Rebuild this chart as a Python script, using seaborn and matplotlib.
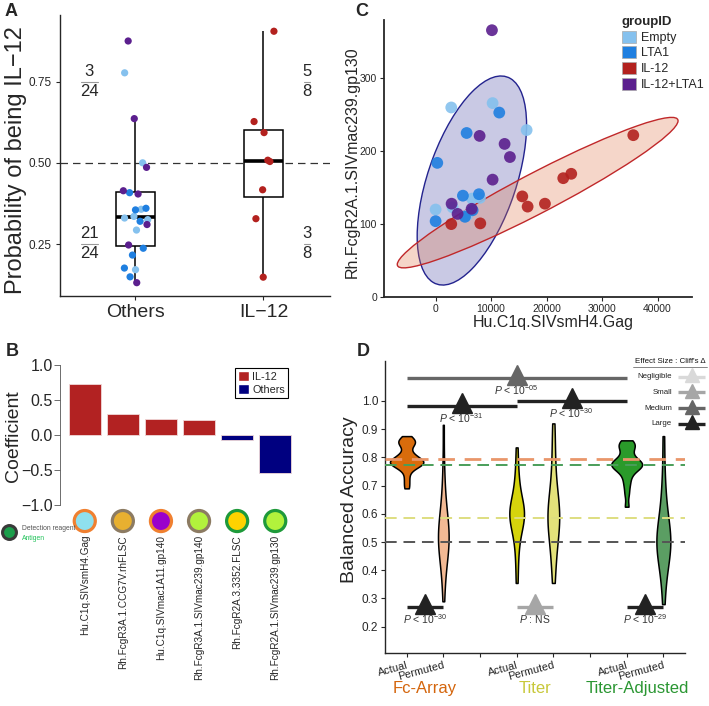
import numpy as np
import pandas as pd
import seaborn as sns
import matplotlib.pyplot as plt
from matplotlib.patches import Ellipse, Patch
from matplotlib.transforms import blended_transform_factory

sns.set_style('ticks')
plt.rcParams['font.family'] = ['Liberation Sans', 'DejaVu Sans']
plt.rcParams['mathtext.fontset'] = 'custom'
plt.rcParams['mathtext.rm'] = 'Liberation Sans'
plt.rcParams['mathtext.it'] = 'Liberation Sans:italic'
plt.rcParams['axes.linewidth'] = 1.0

# ---------------- data ----------------
group_names = ['Empty', 'LTA1', 'IL-12', 'IL-12+LTA1']
group_colors = ['#85c1ee', '#1f7fe0', '#b3211e', '#5b1f8e']

# A: probability of being IL-12 (per animal)
prob_empty = [0.777, 0.50, 0.335, 0.357, 0.325, 0.293, 0.171, 0.33]
prob_lta1 = [0.408, 0.355, 0.32, 0.237, 0.216, 0.176, 0.149, 0.36]
prob_combo = [0.875, 0.636, 0.486, 0.414, 0.404, 0.31, 0.247, 0.131]
prob_il12 = [0.905, 0.627, 0.593, 0.504, 0.508, 0.417, 0.328, 0.148]
class_names = ['Others', 'IL-12']
frac_num = ['3', '21', '5', '3']
frac_den = ['24', '24', '8', '8']

# C: two selected features
gag_empty = [2820, 10270, 16400, 0, 6550, 7990, 3060, 5700]
gp130_empty = [260, 266, 229, 120, 135, 136, 123, 112]
gag_lta1 = [11470, 5590, 300, 4920, 7810, 0, 6670, 5290]
gp130_lta1 = [253, 225, 184, 139, 141, 104, 119, 110]
gag_il12 = [35620, 24440, 23000, 15620, 16580, 19700, 2820, 8050]
gp130_il12 = [222, 169, 163, 138, 124, 128, 100, 101]
gag_combo = [10150, 7930, 12430, 13390, 10270, 2880, 3960, 6490]
gp130_combo = [366, 221, 210, 192, 161, 128, 114, 121]

# B: model coefficients
features = ['Hu.C1q.SIVsmH4.Gag', 'Rh.FcgR3A.1.CCG7V.rhFLSC', 'Hu.C1q.SIVmac1A11.gp140',
            'Rh.FcgR3A.1.SIVmac239.gp140', 'Rh.FcgR2A.3.3352.FLSC', 'Rh.FcgR2A.1.SIVmac239.gp130']
coefs = [0.729, 0.296, 0.229, 0.21, -0.076, -0.538]
coef_dir = ['IL-12', 'IL-12', 'IL-12', 'IL-12', 'Others', 'Others']
antigen_colors = ['#8fe0ee', '#e8b030', '#9a00cc', '#b2f23c', '#ffd200', '#b2f23c']
reagent_colors = ['#f08030', '#8c7b62', '#f08030', '#8c7b62', '#1e9a3a', '#1e9a3a']

# D: balanced accuracy distributions
fc_actual = [0.69, 0.71, 0.73, 0.75, 0.76, 0.765, 0.77, 0.775, 0.775, 0.78, 0.78, 0.785, 0.785,
             0.79, 0.79, 0.795, 0.80, 0.805, 0.81, 0.82, 0.835, 0.845, 0.85, 0.855, 0.86, 0.865, 0.875]
fc_perm = [0.29, 0.36, 0.40, 0.43, 0.45, 0.47, 0.48, 0.49, 0.50, 0.51, 0.52, 0.53, 0.54, 0.55,
           0.56, 0.58, 0.60, 0.62, 0.65, 0.70, 0.77, 0.915]
titer_actual = [0.355, 0.43, 0.48, 0.52, 0.54, 0.56, 0.57, 0.58, 0.59, 0.60, 0.60, 0.61, 0.62,
                0.63, 0.64, 0.66, 0.68, 0.72, 0.76, 0.835]
titer_perm = [0.355, 0.42, 0.46, 0.50, 0.53, 0.55, 0.57, 0.58, 0.59, 0.60, 0.61, 0.63, 0.65,
              0.68, 0.72, 0.78, 0.85, 0.92]
ta_actual = [0.625, 0.67, 0.70, 0.72, 0.74, 0.75, 0.76, 0.765, 0.77, 0.77, 0.775, 0.78, 0.78,
             0.785, 0.79, 0.80, 0.815, 0.83, 0.84, 0.845, 0.85, 0.86]
ta_perm = [0.28, 0.36, 0.40, 0.43, 0.45, 0.47, 0.48, 0.49, 0.50, 0.51, 0.52, 0.53, 0.55, 0.57,
           0.60, 0.63, 0.68, 0.75, 0.875]
violin_data = [fc_actual, fc_perm, titer_actual, titer_perm, ta_actual, ta_perm]
violin_pos = [1, 2, 4, 5, 7, 8]
violin_colors = ['#d96c0c', '#f2b994', '#d6d40c', '#e3e27a', '#2a9a2a', '#5b9e63']
violin_widths = [0.91, 0.29, 0.40, 0.32, 0.84, 0.38]
violin_bw = [0.55, 0.9, 0.8, 0.9, 0.55, 0.9]
model_names = ['Fc-Array', 'Titer', 'Titer-Adjusted']
model_colors = ['#d4650c', '#c8c83a', '#2a9632']
ref_values = [0.795, 0.773, 0.585, 0.5]
ref_colors = ['#e9966a', '#4a9e5a', '#dede80', '#555555']

effect_levels = ['Negligible', 'Small', 'Medium', 'Large']
effect_colors = ['#d9d9d9', '#a6a6a6', '#666666', '#222222']
cmp_pairs = [(1, 7), (1, 4), (4, 7), (1, 2), (4, 5), (7, 8)]
cmp_levels = [1.082, 0.981, 1.0, 0.27, 0.27, 0.27]
cmp_effect = ['Medium', 'Large', 'Large', 'Large', 'Small', 'Large']
cmp_text = [r'$P$ < 10$^{-05}$', r'$P$ < 10$^{-31}$', r'$P$ < 10$^{-30}$',
            r'$P$ < 10$^{-30}$', r'$P$ : NS', r'$P$ < 10$^{-29}$']

# ---------------- figure ----------------
W, H = 709, 706
fig = plt.figure(figsize=(W / 100, H / 100), dpi=100)


def px_axes(left, top, right, bottom):
    return fig.add_axes([left / W, 1 - bottom / H, (right - left) / W, (bottom - top) / H])


pal = dict(zip(group_names, group_colors))

# ---- A ----
ax_a = px_axes(60, 15, 330, 296)
df_a = pd.DataFrame({
    'prob': prob_empty + prob_lta1 + prob_combo + prob_il12,
    'grp': ['Empty'] * 8 + ['LTA1'] * 8 + ['IL-12+LTA1'] * 8 + ['IL-12'] * 8,
})
df_a['cls'] = np.where(df_a['grp'] == 'IL-12', 'IL-12', 'Others')
sns.boxplot(data=df_a, x='cls', y='prob', order=class_names, width=0.3, showfliers=False,
            showcaps=False, color='white', linecolor='black', linewidth=1.1,
            medianprops={'linewidth': 2.6}, ax=ax_a)
np.random.seed(7)
sns.stripplot(data=df_a, x='cls', y='prob', order=class_names, hue='grp', palette=pal,
              jitter=0.1, size=5.2, linewidth=0, legend=False, ax=ax_a, zorder=3)
ax_a.axhline(0.5, color='#333333', lw=0.9, ls=(0, (6, 4)), zorder=1.5)
for i, (num, den) in enumerate(zip(frac_num, frac_den)):
    xc = -0.36 if i < 2 else 1.34
    yc = 0.75 if i % 2 == 0 else 0.25
    half = 0.068 if len(den) == 2 else 0.025
    ax_a.text(xc, yc + 0.031, num, ha='center', va='center', fontsize=12)
    ax_a.text(xc, yc - 0.030, den, ha='center', va='center', fontsize=12)
    ax_a.plot([xc - half, xc + half], [yc, yc], color='#999999', lw=0.8)
ax_a.set_xlim(-0.59, 1.52)
ax_a.set_ylim(0.09, 0.955)
ax_a.set_yticks([0.25, 0.5, 0.75])
ax_a.set_yticklabels(['0.25', '0.50', '0.75'], fontsize=8.5)
ax_a.set_xticks([0, 1])
ax_a.set_xticklabels(['Others', 'IL\u221212'], fontsize=14)
ax_a.tick_params(length=3, width=0.8, pad=3)
ax_a.set_xlabel('')
ax_a.set_ylabel('')
sns.despine(ax=ax_a)
fig.text(16 / W, 1 - 160 / H, 'Probability of being IL\u221212', rotation=90,
         ha='center', va='center', fontsize=17)

# ---- C ----
ax_c = px_axes(384, 20, 692, 297)
df_c = pd.DataFrame({
    'gag': gag_empty + gag_lta1 + gag_il12 + gag_combo,
    'gp130': gp130_empty + gp130_lta1 + gp130_il12 + gp130_combo,
    'grp': ['Empty'] * 8 + ['LTA1'] * 8 + ['IL-12'] * 8 + ['IL-12+LTA1'] * 8,
})


def trob(x, y, nu=5, tol=1e-4):
    # robust (multivariate t) location / scatter, same idea as MASS::cov.trob
    X = np.column_stack([x, y]).astype(float)
    n, p = X.shape
    w = np.ones(n)
    loc = X.mean(axis=0)
    for _ in range(500):
        w0 = w
        D = X - loc
        S = (w[:, None] * D).T @ D / w.sum()
        Q = np.einsum('ij,jk,ik->i', D, np.linalg.inv(S), D)
        w = (nu + p) / (nu + Q)
        loc = (w[:, None] * X).sum(axis=0) / w.sum()
        if np.all(np.abs(w - w0) < tol):
            break
    D = X - loc
    return loc, (w[:, None] * D).T @ D / n


def conf_ellipse(x, y, radius, **kw):
    center, cov = trob(x, y)
    vals, vecs = np.linalg.eigh(cov)
    angle = np.degrees(np.arctan2(vecs[1, 1], vecs[0, 1]))
    w, h = 2 * radius * np.sqrt(vals[::-1])
    return Ellipse(center, w, h, angle=angle, **kw)


oth = df_c[df_c['grp'] != 'IL-12']
il = df_c[df_c['grp'] == 'IL-12']
# radius = sqrt(2 * F(0.95; 2, n-1)) for n = 24 and n = 8
ax_c.add_patch(conf_ellipse(oth['gag'], oth['gp130'], 2.616, facecolor=(0, 0, 0.5, 0.21),
                            edgecolor='#23238e', lw=1.0, zorder=1))
ax_c.add_patch(conf_ellipse(il['gag'], il['gp130'], 3.078, facecolor=(0.88, 0.47, 0.31, 0.3),
                            edgecolor='#c0282a', lw=1.0, zorder=1))
sns.scatterplot(data=df_c, x='gag', y='gp130', hue='grp', palette=pal, s=72, linewidth=0,
                alpha=0.9, legend=False, ax=ax_c, zorder=3)
ax_c.set_xlim(-9300, 46200)
ax_c.set_ylim(0, 380)
ax_c.set_xticks([0, 10000, 20000, 30000, 40000])
ax_c.set_yticks([0, 100, 200, 300])
ax_c.tick_params(labelsize=7.5, length=3, width=0.8, pad=2)
ax_c.set_xlabel('')
ax_c.set_ylabel('')
for s in ['left', 'bottom']:
    ax_c.spines[s].set_linewidth(1.3)
sns.despine(ax=ax_c)
fig.text(553 / W, 1 - 323 / H, 'Hu.C1q.SIVsmH4.Gag', ha='center', va='center', fontsize=11.5)
fig.text(352 / W, 1 - 162 / H, 'Rh.FcgR2A.1.SIVmac239.gp130', rotation=90,
         ha='center', va='center', fontsize=11.5)
leg_c = ax_c.legend([Patch(facecolor=c, edgecolor='#aaaaaa', lw=0.5) for c in group_colors],
                    group_names, title='groupID', loc='upper left',
                    bbox_to_anchor=(622 / W, 1 - 16 / H), bbox_transform=fig.transFigure,
                    frameon=False, fontsize=9, title_fontproperties={'weight': 'bold', 'size': 9.5},
                    handlelength=1.1, handleheight=1.1, handletextpad=0.4, labelspacing=0.2,
                    borderpad=0, borderaxespad=0)
leg_c._legend_box.align = 'left'

# ---- B ----
ax_b = px_axes(60, 359.4, 300, 510.6)
df_b = pd.DataFrame({'feature': features, 'coef': coefs, 'dir': coef_dir})
sns.barplot(data=df_b, x='feature', y='coef', hue='dir', order=features,
            palette={'IL-12': '#b22222', 'Others': '#000080'}, width=0.83, saturation=1,
            edgecolor='#f0d8d8', linewidth=0.6, legend=False, ax=ax_b)
ax_b.set_xlim(-0.65, 5.65)
ax_b.set_ylim(-1.08, 1.08)
ax_b.set_yticks([-1, -0.5, 0, 0.5, 1])
ax_b.set_yticklabels(['\u22121.0', '\u22120.5', '0.0', '0.5', '1.0'], fontsize=11.5)
ax_b.tick_params(axis='y', length=4, width=0.6, pad=1, color='#555555')
ax_b.set_xticks([])
ax_b.set_xlabel('')
ax_b.set_ylabel('')
for s in ['top', 'right', 'bottom']:
    ax_b.spines[s].set_visible(False)
ax_b.spines['left'].set_bounds(-1, 1)
ax_b.spines['left'].set_linewidth(0.6)
ax_b.spines['left'].set_color('#555555')
trans_b = blended_transform_factory(ax_b.transData, ax_b.transAxes)
ax_b.scatter(range(len(features)), [-0.069] * len(features), s=230, c=antigen_colors,
             edgecolors=reagent_colors, linewidths=2.3, transform=trans_b, clip_on=False, zorder=5)
for i, name in enumerate(features):
    ax_b.text(i, -0.161, name, transform=trans_b, rotation=90, ha='center', va='top',
              fontsize=7.2)
leg_b = ax_b.legend([Patch(facecolor='#b22222'), Patch(facecolor='#000080')], ['IL-12', 'Others'],
                    loc='upper left', bbox_to_anchor=(235 / W, 1 - 368 / H),
                    bbox_transform=fig.transFigure, fontsize=7.8, frameon=True, fancybox=False,
                    edgecolor='black', framealpha=1, handlelength=1.0, handleheight=1.0,
                    handletextpad=0.3, labelspacing=0.2, borderpad=0.3, borderaxespad=0)
leg_b.get_frame().set_linewidth(0.8)
fig.text(14 / W, 1 - 436 / H, 'Coefficient', rotation=90, ha='center', va='center', fontsize=14)
ax_b.scatter([9 / W], [1 - 532 / H], s=100, c='#1b9e4b', edgecolors='#3a3a3a', linewidths=2.2,
             transform=fig.transFigure, clip_on=False)
fig.text(22 / W, 1 - 528 / H, 'Detection reagent', fontsize=4.9, color='#555555', va='center')
fig.text(22 / W, 1 - 538 / H, 'Antigen', fontsize=4.9, color='#21c25a', va='center')

# ---- D ----
ax_d = px_axes(385, 360.7, 685, 653)
for vals, pos, col, wd, bw in zip(violin_data, violin_pos, violin_colors, violin_widths, violin_bw):
    sns.violinplot(x=[pos] * len(vals), y=vals, orient='x', native_scale=True, width=wd, cut=0,
                   bw_adjust=bw, inner=None, color=col, linecolor='black', linewidth=1.1,
                   saturation=1, density_norm='width', ax=ax_d)
for v, c in zip(ref_values, ref_colors):
    ax_d.axhline(v, color=c, lw=2.0 if c == '#e9966a' else 1.4, ls=(0, (6, 3.5)), zorder=3)
for (a, b), yv, eff, txt in zip(cmp_pairs, cmp_levels, cmp_effect, cmp_text):
    col = effect_colors[effect_levels.index(eff)]
    ax_d.plot([a, b], [yv, yv], color=col, lw=2.4, solid_capstyle='butt', zorder=4)
    ax_d.plot([(a + b) / 2], [yv + 0.01], marker='^', ms=14, color=col, zorder=5)
    ax_d.text((a + b) / 2, yv - 0.043, txt, ha='center', va='center', fontsize=7.5,
              color='#333333')
ax_d.set_xlim(0.41, 8.59)
ax_d.set_ylim(0.107, 1.142)
ax_d.set_yticks([0.2, 0.3, 0.4, 0.5, 0.6, 0.7, 0.8, 0.9, 1.0])
ax_d.set_yticklabels(['0.2', '0.3', '0.4', '0.5', '0.6', '0.7', '0.8', '0.9', '1.0'], fontsize=8.5)
ax_d.set_xticks([1, 2, 3, 4, 5, 6, 7, 8])
ax_d.set_xticklabels(['Actual', 'Permuted', '', 'Actual', 'Permuted', '', 'Actual', 'Permuted'],
                     fontsize=7.8, rotation=15, ha='right', rotation_mode='anchor')
ax_d.tick_params(length=3, width=0.8, pad=2)
ax_d.set_xlabel('')
ax_d.set_ylabel('')
sns.despine(ax=ax_d)
trans_d = blended_transform_factory(ax_d.transData, ax_d.transAxes)
for name, col, xc in zip(model_names, model_colors, [1.5, 4.5, 7.3]):
    ax_d.text(xc, -0.122, name, transform=trans_d, ha='center', va='center', fontsize=12, color=col)
fig.text(350 / W, 1 - 500 / H, 'Balanced Accuracy', rotation=90, ha='center', va='center',
         fontsize=14)

# effect size key
ax_e = px_axes(628, 356, 709, 432)
ax_e.set_xlim(0, 81)
ax_e.set_ylim(3.53, -1.33)
ax_e.axis('off')
for i, (lvl, col) in enumerate(zip(effect_levels, effect_colors)):
    ax_e.plot([50, 77], [i, i], color=col, lw=2.4, solid_capstyle='butt')
    ax_e.plot([64], [i - 0.1], marker='^', ms=10, color=col)
    ax_e.text(44, i, lvl, ha='right', va='center', fontsize=5.7, color='#222222')
ax_e.text(42, -1.0, "Effect Size : Cliff's \u0394", ha='center', va='center', fontsize=5.7,
          color='#111111')
ax_e.plot([5, 79], [-0.6, -0.6], color='#555555', lw=0.5)

# panel letters
for letter, (lx, ly) in zip('ABCD', [(11, 11), (12, 351), (362, 12), (363, 351)]):
    fig.text(lx / W, 1 - ly / H, letter, fontsize=13, fontweight='bold', ha='center', va='center')

fig.savefig('out.png', dpi=100, facecolor='white')
